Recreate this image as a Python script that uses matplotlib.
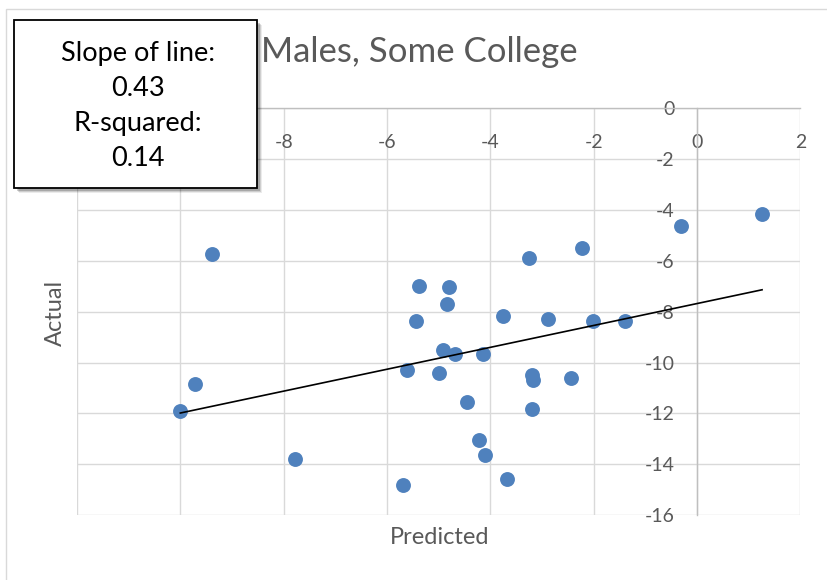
import numpy as np
import matplotlib.pyplot as plt
from matplotlib.patches import Rectangle

plt.rcParams['font.family'] = ['Lato', 'DejaVu Sans']
plt.rcParams['axes.unicode_minus'] = False

# predicted vs actual, one point per group
predicted = [-9.38, -5.38, -5.44, -9.72, -10.0, -7.78, -5.69, -5.61,
             1.26, -0.31, -2.22, -3.25, -4.80, -4.84, -3.76, -2.89,
             -2.02, -1.39, -4.92, -4.68, -4.14, -5.00, -3.20, -3.18,
             -2.44, -4.46, -3.19, -4.22, -4.11, -3.67]
actual = [-5.74, -7.01, -8.38, -10.84, -11.91, -13.80, -14.82, -10.31,
          -4.18, -4.63, -5.48, -5.90, -7.03, -7.69, -8.17, -8.29,
          -8.38, -8.37, -9.49, -9.66, -9.65, -10.41, -10.50, -10.69,
          -10.61, -11.54, -11.84, -13.03, -13.62, -14.59]

slope = 0.43
r_squared = 0.14
title = "Males, Some College"
x_ticks = list(range(-12, 3, 2))
y_ticks = list(range(-16, 1, 2))

W, H = 827, 580
fig = plt.figure(figsize=(W / 100, H / 100), dpi=100)
ax = fig.add_axes([77 / W, 1 - 515.3 / H, (800.3 - 77) / W, (515.3 - 108) / H])

gray_text = '#595959'
ax.scatter(predicted, actual, s=115, color='#4F81BD', zorder=3, linewidths=0)

# trend line through the mean point with the stated slope
px = np.array(predicted)
py = np.array(actual)
intercept = py.mean() - slope * px.mean()
xs = np.array([px.min(), px.max()])
ax.plot(xs, slope * xs + intercept, color='black', lw=1.2, zorder=4)

ax.set_xlim(-12, 2)
ax.set_ylim(-16, 0)
ax.set_xticks(x_ticks)
ax.set_yticks(y_ticks)
ax.grid(True, color='#d9d9d9', lw=1.0, zorder=0)
ax.set_axisbelow(True)

for side in ['top', 'right']:
    ax.spines[side].set_visible(False)
ax.spines['left'].set_position(('data', 0))
ax.spines['bottom'].set_position(('data', 0))
for side in ['left', 'bottom']:
    ax.spines[side].set_color('#bfbfbf')
    ax.spines[side].set_linewidth(1.0)
    ax.spines[side].set_zorder(1)

ax.tick_params(axis='x', length=0, pad=19, labelsize=14, labelcolor=gray_text)
ax.tick_params(axis='y', length=0, pad=16, labelsize=14, labelcolor=gray_text)

fig.text(419 / W, 1 - 52 / H, title, ha='center', va='center',
         fontsize=25, color=gray_text)
fig.text(440 / W, 1 - 537 / H, "Predicted", ha='center', va='center',
         fontsize=17, color=gray_text)
fig.text(55 / W, 1 - 313 / H, "Actual", ha='center', va='center',
         fontsize=17, color=gray_text, rotation=90)

# outer chart border (top and left edges visible)
fig.add_artist(Rectangle((6 / W, -0.1), 1.2, 1 - 9 / H + 0.1,
                         transform=fig.transFigure, fill=False,
                         edgecolor='#d9d9d9', lw=1.0))

# stats box with a soft shadow
bx0, by0, bx1, by1 = 14, 20, 257, 188
for k, a in [(5, 0.08), (4, 0.12), (3, 0.18)]:
    fig.add_artist(Rectangle((bx0 / W + k / W, 1 - (by1 + k) / H),
                             (bx1 - bx0) / W, (by1 - by0) / H,
                             transform=fig.transFigure, facecolor='black',
                             edgecolor='none', alpha=a, zorder=9))
fig.add_artist(Rectangle((bx0 / W, 1 - by1 / H), (bx1 - bx0) / W, (by1 - by0) / H,
                         transform=fig.transFigure, facecolor='white',
                         edgecolor='black', lw=1.3, zorder=10))
box_lines = ["Slope of line:", f"{slope:.2f}", "R-squared:", f"{r_squared:.2f}"]
for i, line in enumerate(box_lines):
    fig.text(138 / W, 1 - (53 + 35 * i) / H, line, ha='center', va='center',
             fontsize=19.5, color='black', zorder=11)

fig.savefig('out.png', dpi=100)
